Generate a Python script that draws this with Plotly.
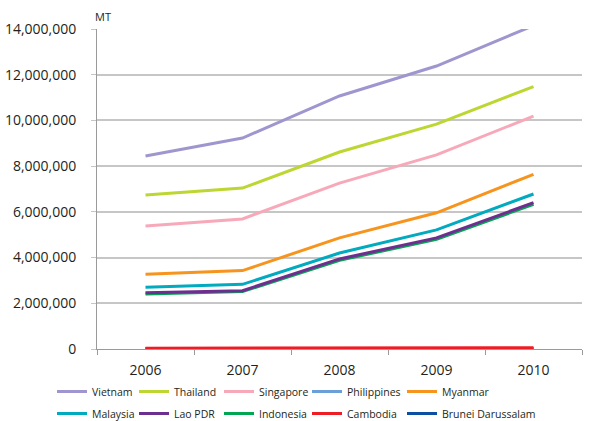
import plotly.graph_objects as go

years = ["2006", "2007", "2008", "2009", "2010"]

countries = ["Vietnam", "Thailand", "Singapore", "Philippines", "Myanmar",
             "Malaysia", "Lao PDR", "Indonesia", "Cambodia", "Brunei Darussalam"]

vietnam = [8440000, 9230000, 11070000, 12380000, 14150000]
thailand = [6740000, 7040000, 8620000, 9840000, 11480000]
singapore = [5380000, 5690000, 7260000, 8490000, 10190000]
philippines = [6000, 6500, 7000, 7500, 8000]
myanmar = [3270000, 3430000, 4860000, 5960000, 7640000]
malaysia = [2700000, 2830000, 4200000, 5210000, 6780000]
lao_pdr = [2460000, 2550000, 3940000, 4860000, 6400000]
indonesia = [2410000, 2510000, 3880000, 4800000, 6330000]
cambodia = [30000, 32000, 35000, 45000, 60000]
brunei = [12000, 13000, 14000, 15000, 16000]

series = [vietnam, thailand, singapore, philippines, myanmar,
          malaysia, lao_pdr, indonesia, cambodia, brunei]

colors = ["#a096cf", "#bdd631", "#f7a9b9", "#6b9fd9", "#f7941e",
          "#00aabf", "#6d2f8f", "#00a651", "#ee1c25", "#0b4ea2"]

# painting order, bottom first
draw_order = [3, 9, 8, 7, 6, 5, 4, 2, 1, 0]

# legend laid out as 5 columns x 2 rows, one small legend per column
legend_ids = ["legend", "legend2", "legend3", "legend4", "legend5"]
column_text_x = [91, 173, 258, 346, 441]

fig = go.Figure()

for i in draw_order:
    col = i % 5
    fig.add_trace(go.Scatter(
        x=years, y=series[i], name=countries[i], mode="lines",
        line=dict(color=colors[i], width=3),
        legend=legend_ids[col], legendgroup=countries[i], legendrank=i + 1,
    ))

grid = "#c6c6c6"
axis = "#9a9a9a"

fig.update_layout(
    width=594, height=421,
    margin=dict(l=97, r=12, t=29, b=72, autoexpand=False),
    paper_bgcolor="white", plot_bgcolor="white",
    font=dict(family="Open Sans", color="#231f20"),
    showlegend=True,
    xaxis=dict(
        type="category", range=[-0.5, 4.5],
        showline=True, linecolor=axis, linewidth=1,
        ticks="outside", tickson="boundaries", ticklen=5, tickcolor=axis,
        showgrid=False, tickfont=dict(size=14), ticklabelstandoff=8,
    ),
    yaxis=dict(
        range=[0, 14000000], dtick=2000000, tickformat=",",
        showline=True, linecolor=axis, linewidth=1,
        ticks="outside", ticklen=5, tickcolor=grid,
        showgrid=True, gridcolor=grid, gridwidth=1.5,
        zeroline=False, tickfont=dict(size=14), ticklabelstandoff=12,
    ),
)

for lid, tx in zip(legend_ids, column_text_x):
    fig.update_layout({lid: dict(
        orientation="v", xref="container", x=(tx - 39) / 594, xanchor="left",
        yref="container", y=1 - 377 / 421, yanchor="top",
        font=dict(size=10.5, color="#231f20"), bgcolor="rgba(0,0,0,0)",
        itemwidth=30, tracegroupgap=3, maxheight=120,
    )})

fig.add_annotation(
    text="MT", xref="paper", yref="paper", x=-0.008, y=1.0,
    xanchor="left", yanchor="bottom", yshift=3, showarrow=False,
    font=dict(size=11, color="#231f20"),
)

fig.write_html("out.html")
